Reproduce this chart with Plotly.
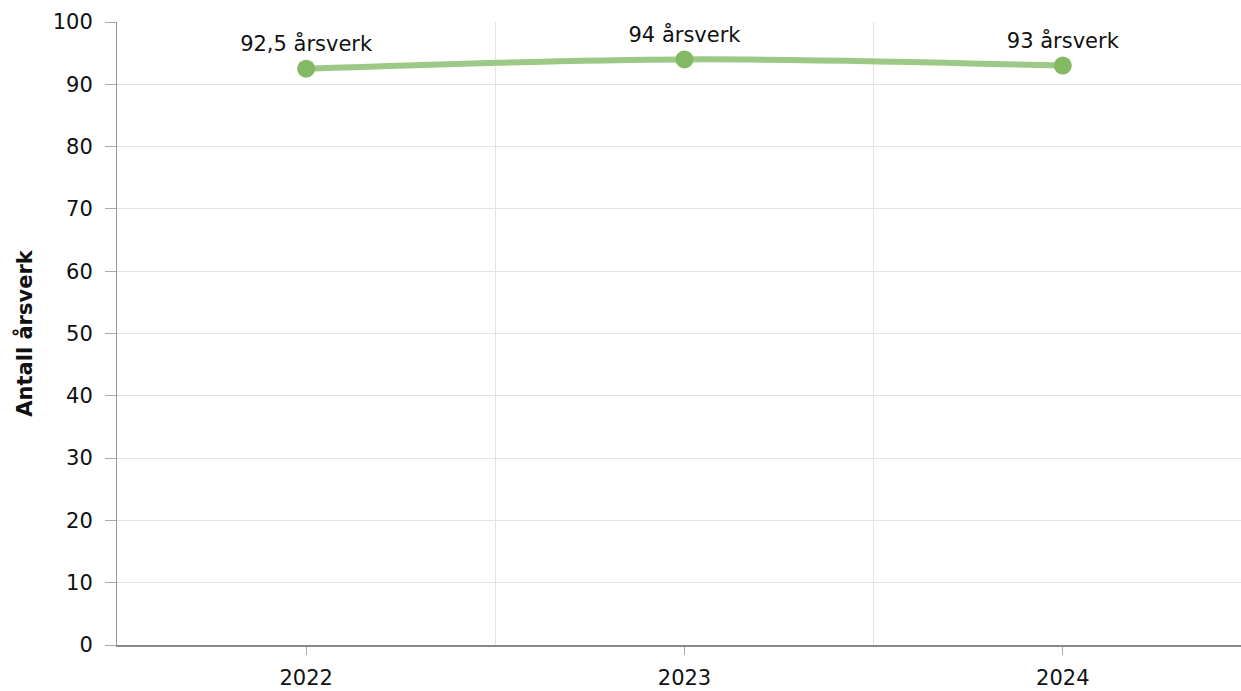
import plotly.graph_objects as go

years = ["2022", "2023", "2024"]
values = [92.5, 94, 93]
labels = ["92,5 årsverk", "94 årsverk", "93 årsverk"]
y_ticks = [0, 10, 20, 30, 40, 50, 60, 70, 80, 90, 100]

FONT = "Verdana, DejaVu Sans, sans-serif"
xpos = list(range(len(years)))

fig = go.Figure()
fig.add_trace(go.Scatter(
    x=xpos, y=values, mode="lines+markers+text",
    text=labels, textposition="top center",
    textfont=dict(family=FONT, size=21, color="#111111"),
    line=dict(color="#9cc985", width=6, shape="spline", smoothing=1),
    marker=dict(color="#84b963", size=18),
    cliponaxis=False,
    hoverinfo="skip",
))

fig.update_layout(
    width=1241, height=691,
    margin=dict(l=117, r=0, t=22, b=46),
    plot_bgcolor="white", paper_bgcolor="white",
    showlegend=False,
    font=dict(family=FONT, size=21, color="#111111"),
)
fig.update_xaxes(
    range=[-0.5, 2.471],
    tickvals=xpos, ticktext=years,
    showgrid=False,
    ticks="outside", ticklen=8, tickcolor="#aaaaaa", tickwidth=1,
    showline=True, linecolor="#888888", linewidth=2,
    minor=dict(tickvals=[0.5, 1.5], showgrid=True, gridcolor="#e3e3e3", gridwidth=1, ticks=""),
    tickfont=dict(family=FONT, size=21, color="#111111"),
    ticklabelstandoff=5,
    automargin=False,
    zeroline=False,
)
fig.update_yaxes(
    range=[0, 100],
    tickvals=y_ticks,
    showgrid=True, gridcolor="#e3e3e3", gridwidth=1,
    ticks="outside", ticklen=11, tickcolor="#aaaaaa", tickwidth=1,
    showline=True, linecolor="#999999", linewidth=1,
    zeroline=False,
    tickfont=dict(family=FONT, size=21, color="#111111"),
    ticklabelstandoff=8,
    automargin=False,
    title=dict(text="<b>Antall årsverk</b>", font=dict(family=FONT, size=21, color="#111111"), standoff=14),
)

fig.write_html("out.html", config={"displayModeBar": False},
               post_script="document.body.style.margin='0';")
